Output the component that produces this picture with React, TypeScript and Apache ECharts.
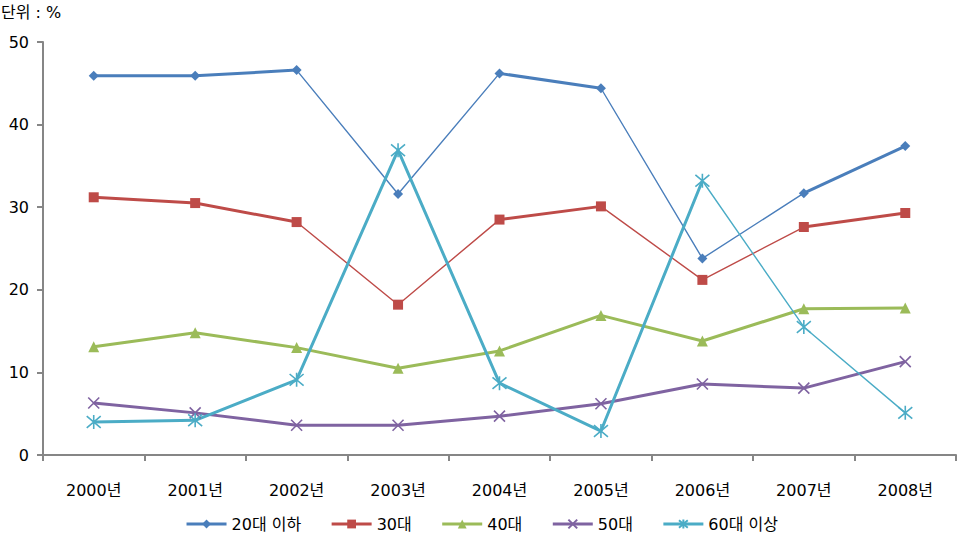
import React, { useEffect, useRef } from "react";
import * as echarts from "echarts";

const categories = ["2000년", "2001년", "2002년", "2003년", "2004년", "2005년", "2006년", "2007년", "2008년"];
const seriesNames = ["20대 이하", "30대", "40대", "50대", "60대 이상"];
const age20 = [45.9, 45.9, 46.6, 31.6, 46.2, 44.4, 23.8, 31.7, 37.4];
const age30 = [31.2, 30.5, 28.2, 18.2, 28.5, 30.1, 21.2, 27.6, 29.3];
const age40 = [13.1, 14.8, 13.0, 10.5, 12.6, 16.9, 13.8, 17.7, 17.8];
const age50 = [6.3, 5.1, 3.6, 3.6, 4.7, 6.2, 8.6, 8.1, 11.3];
const age60 = [4.0, 4.2, 9.1, 36.9, 8.7, 2.9, 33.2, 15.5, 5.1];
const yTicks = { min: 0, max: 50, interval: 10 };

const allValues = [age20, age30, age40, age50, age60];

// style: per-segment weight (1 = thick, 0 = thin)
const segWeights = [
  [1, 1, 0, 0, 1, 0, 0, 1],
  [1, 1, 0, 0, 1, 0, 0, 1],
  [1, 1, 1, 1, 1, 1, 1, 1],
  [1, 1, 1, 1, 1, 1, 1, 1],
  [1, 1, 1, 1, 1, 1, 0, 0],
];
const colors = ["#4A7EBB", "#BE4B48", "#9BBB59", "#7F63A1", "#4BACC6"];
const crossPath = "path://M0,0L10,10M10,0L0,10";
const starPath = "path://M0,0L10,10M10,0L0,10M5,-1L5,11";
const symbols = ["diamond", "rect", "triangle", crossPath, starPath];
const symbolSizes = [10, 10, 11, 11, 14];
const FONT = "'DejaVu Sans', 'Noto Sans CJK KR', sans-serif";

export default function App() {
  const ref = useRef<HTMLDivElement>(null);
  useEffect(() => {
    if (!ref.current) return;
    const chart = echarts.init(ref.current, undefined, { renderer: "svg" });
    const series: any[] = [];
    allValues.forEach((vals, si) => {
      const w = segWeights[si];
      let start = 0;
      for (let k = 1; k <= w.length; k++) {
        if (k === w.length || w[k] !== w[start]) {
          const data = vals.map((v, i) => (i >= start && i <= k ? v : null));
          series.push({
            name: seriesNames[si] + "_seg" + start,
            type: "line",
            data,
            showSymbol: false,
            symbol: "none",
            silent: true,
            connectNulls: false,
            lineStyle: { color: colors[si], width: w[start] ? 3 : 1.4 },
            z: 2,
          });
          start = k;
        }
      }
      const isStroke = si >= 3;
      series.push({
        name: seriesNames[si],
        type: "line",
        data: vals,
        symbol: symbols[si],
        symbolSize: symbolSizes[si],
        showSymbol: true,
        lineStyle: { color: colors[si], width: 0, opacity: 0 },
        itemStyle: isStroke
          ? { color: "none", borderColor: colors[si], borderWidth: 1.6 }
          : { color: colors[si] },
        z: 3,
      });
    });
    chart.setOption({
      animation: false,
      color: colors,
      textStyle: { fontFamily: FONT },
      graphic: [
        {
          type: "text",
          left: 1,
          top: 4,
          style: { text: "단위 : %", fontSize: 16, fill: "#000", fontFamily: FONT },
        },
      ],
      grid: { left: 43, right: 7, top: 42, bottom: 84 },
      legend: {
        bottom: 2,
        left: "center",
        itemWidth: 40,
        itemHeight: 11,
        itemGap: 29,
        textStyle: { fontSize: 16, color: "#000", fontFamily: FONT, padding: [0, 0, 0, 0] },
        data: seriesNames.map((n, i) => ({
          name: n,
          lineStyle: { opacity: 1, width: 3, color: colors[i] },
        })),
      },
      xAxis: {
        type: "category",
        data: categories,
        boundaryGap: true,
        axisLine: { lineStyle: { color: "#868686", width: 2 } },
        axisTick: { show: true, length: 6, lineStyle: { color: "#868686", width: 2 } },
        axisLabel: { color: "#000", fontSize: 16, margin: 27, fontFamily: FONT },
        splitLine: { show: false },
      },
      yAxis: {
        type: "value",
        min: yTicks.min,
        max: yTicks.max,
        interval: yTicks.interval,
        axisLine: { show: true, lineStyle: { color: "#868686", width: 2 } },
        axisTick: { show: true, length: 6, lineStyle: { color: "#868686", width: 2 } },
        axisLabel: { color: "#000", fontSize: 16, margin: 14, fontFamily: FONT },
        splitLine: { show: false },
      },
      series,
    });
    return () => chart.dispose();
  }, []);
  return <div ref={ref} style={{ width: 963, height: 539, position: "absolute", left: 0, top: 0 }} />;
}
